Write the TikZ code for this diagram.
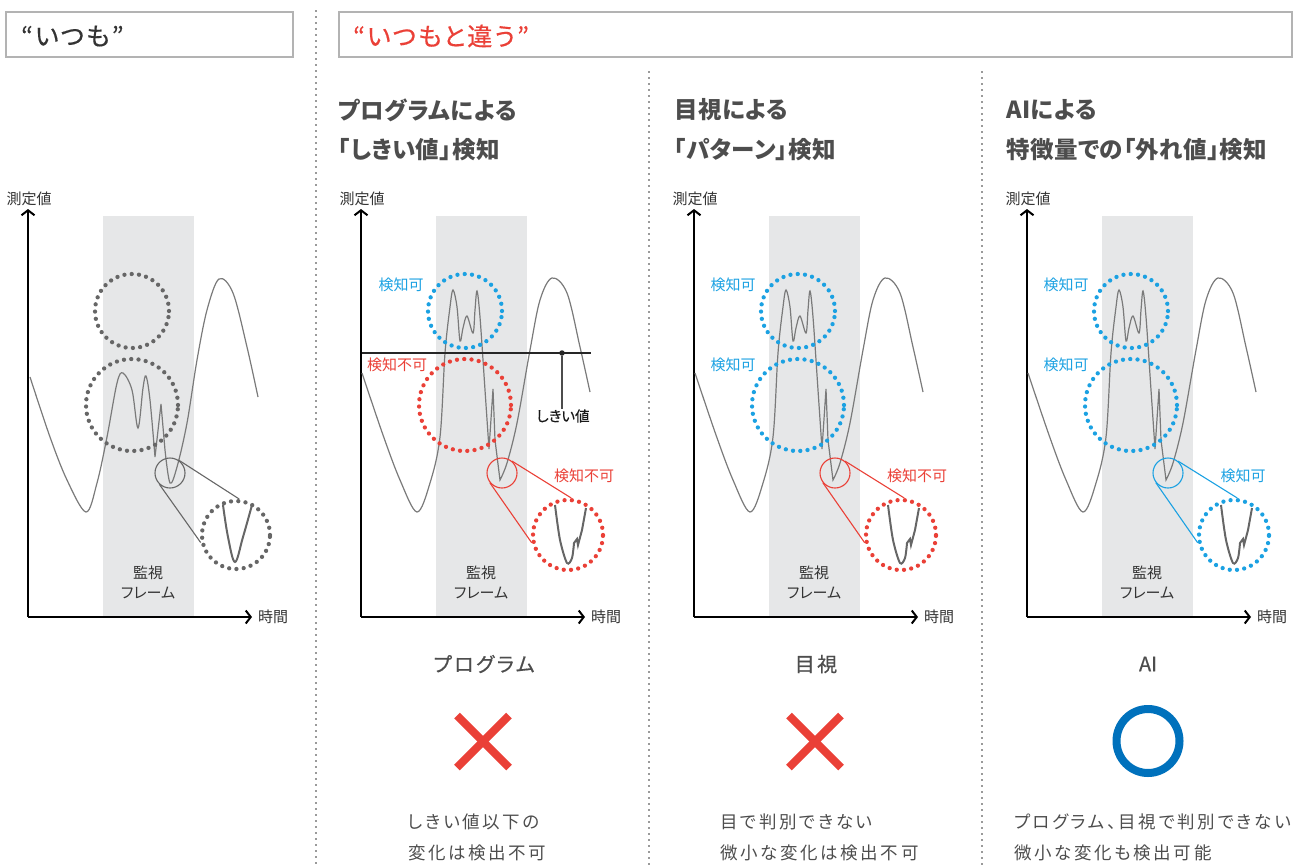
\documentclass[tikz,border=0pt]{standalone}
\usepackage{fontspec}
\setmainfont{Noto Sans CJK JP}[RawFeature=+palt]
\newfontfamily\jpmid{Noto Sans CJK JP}[RawFeature=+palt, FakeBold=0.5]
\usetikzlibrary{arrows.meta, calc}

\definecolor{txtgray}{HTML}{4D4D4D}
\definecolor{txtdark}{HTML}{333333}
\definecolor{curvegray}{HTML}{7A7A7A}
\definecolor{ringgray}{HTML}{666666}
\definecolor{bandgray}{HTML}{E6E7E8}
\definecolor{boxgray}{HTML}{B3B3B3}
\definecolor{alertred}{HTML}{EA4037}
\definecolor{okblue}{HTML}{1BA1E2}
\definecolor{markblue}{HTML}{0071BC}

\tikzset{
  headbox/.style={draw=boxgray, line width=1.6pt},
  divider/.style={draw=txtdark, line width=1.7pt, line cap=round, dash pattern=on 0pt off 6pt},
  titletxt/.style={anchor=west, inner sep=0pt,
    font=\jpmid\fontsize{25}{29}\selectfont\addfontfeatures{LetterSpace=8}},
  headtxt/.style={anchor=west, inner sep=0pt, text=txtgray,
    font=\fontsize{23.5}{28}\selectfont\bfseries\addfontfeatures{LetterSpace=2}},
  axis/.style={line width=2.2pt, -{Straight Barb[length=5pt,width=13pt,line width=2pt]}},
  axislbl/.style={inner sep=0pt, text=txtdark, font=\fontsize{15}{18}\selectfont},
  framelbl/.style={inner sep=0pt, align=center, text=txtdark, font=\fontsize{15}{20}\selectfont},
  judgelbl/.style={inner sep=0pt, font=\fontsize{15}{18}\selectfont},
  wave/.style={draw=curvegray, line width=1.2pt},
  zoomwave/.style={draw=ringgray, line width=2pt},
  ring/.style={circle, draw, line width=1.1pt, minimum size=30pt, inner sep=0pt},
  dotring/.style={circle, draw, line width=4.3pt, line cap=round, dash pattern=on 0pt off 7.3pt, inner sep=0pt},
  methodlbl/.style={inner sep=0pt, text=txtgray, font=\jpmid\fontsize{20}{24}\selectfont\addfontfeatures{LetterSpace=12}},
  notetxt/.style={anchor=west, align=left, inner sep=0pt, text=txtgray,
    font=\fontsize{17.5}{31}\selectfont\addfontfeatures{LetterSpace=15}},
}

\begin{document}
\begin{tikzpicture}[x=1pt, y=-1pt]
\useasboundingbox (0,0) rectangle (1298,865);

% Header boxes
\draw[headbox] (6,12) rectangle (293,57);
\node[titletxt, text=txtdark] (ttlA) at (21,36) {“いつも”};
\draw[headbox] (339,12) rectangle (1292,57);
\node[titletxt, text=alertred] (ttlB) at (353,36) {“いつもと違う”};

% Dividers
\draw[divider] (316,11) -- (316,865);
\draw[divider] (649,72) -- (649,865);
\draw[divider] (982,72) -- (982,865);

% Headings
\node[headtxt] (headPa) at (338,110) {プログラムによる};
\node[headtxt] (headPb) at (338,150) {「しきい値」検知};
\node[headtxt] (headVa) at (674,110) {目視による};
\node[headtxt] (headVb) at (674,150) {「パターン」検知};
\node[headtxt] (headAa) at (1006,110) {AIによる};
\node[headtxt] (headAb) at (1006,150) {特徴量での「外れ値」検知};

% Frame, axes and axis labels (all four charts)
\foreach \i/\dx in {1/0, 2/333, 3/666, 4/999} {
  \begin{scope}[xshift=\dx pt]
    \fill[bandgray] (103,216) rectangle (194,617);
    \coordinate (orig\i) at (28,617);
    \coordinate (ytop\i) at (28,209);
    \coordinate (xend\i) at (252,617);
    \draw[axis] (orig\i) -- (ytop\i);
    \draw[axis] (orig\i) -- (xend\i);
    \node[axislbl] (ylbl\i) at (29,199) {測定値};
    \node[axislbl, anchor=west] (xlbl\i) at (258,617) {時間};
    \node[framelbl] (frame\i) at (148,582) {監視\\フレーム};
  \end{scope}
}

% Usual signal
\draw[wave] plot[smooth, tension=0.55] coordinates {(30,377) (50,437) (67,480) (86,512) (97,483)
  (107,437) (117,383) (123,373) (132,390) (138,428) (143,388) (146,376) (150,400) (155,457)}
  -- (161,404) -- plot[smooth, tension=0.55] coordinates {(165,450) (170,483) (177,467) (187,423)
  (197,360) (207,310) (219,279) (233,293) (247,347) (258,397)};
\node[dotring, ringgray, minimum size=74pt] (topA) at (132,311) {};
\node[dotring, ringgray, minimum size=92pt] (midA) at (132,405) {};
\node[ring, ringgray] (dipA) at (170,473) {};
\node[dotring, ringgray, minimum size=68pt] (zoomA) at (236,535) {};
\draw[ringgray, line width=1.1pt] (dipA.57) -- (zoomA.85);
\draw[ringgray, line width=1.1pt] (dipA.227) -- (zoomA.192);
\draw[zoomwave] plot[smooth, tension=0.6] coordinates {(223,505) (228,537) (235,562) (243,537) (252,505)};

% Changed signal (three charts)
\foreach \dx in {333, 666, 999} {
  \begin{scope}[xshift=\dx pt]
    \draw[wave] plot[smooth, tension=0.55] coordinates {(29,373) (50,435) (67,480) (84,512) (97,483)
      (107,437) (112,353) (117,307) (120,290) (124,307) (127,341) (130,328) (134,316) (140,333)
      (142,310) (144,291) (147,317) (152,390) (156,449)} -- (160,389) -- (162,440)
      -- plot[smooth, tension=0.55] coordinates {(167,480) (174,463) (184,423) (197,350) (207,300)
      (219,278) (234,293) (247,347) (257,392)};
    \draw[zoomwave] plot[smooth, tension=0.5] coordinates {(222,505) (227,540) (234,563) (239,558)
      (241,543)} -- (244,539) -- (245,545) -- plot[smooth, tension=0.5] coordinates {(249,530) (253,508)};
  \end{scope}
}

% Program: threshold detection
\node[dotring, okblue, minimum size=74pt] (topP) at (465,311) {};
\node[dotring, alertred, minimum size=92pt] (midP) at (465,405) {};
\node[ring, alertred] (dipP) at (502,473) {};
\node[dotring, alertred, minimum size=70pt] (zoomP) at (568,535) {};
\draw[alertred, line width=1.1pt] (dipP.50) -- (zoomP.85);
\draw[alertred, line width=1.1pt] (dipP.218) -- (zoomP.192);
\node[judgelbl, text=okblue] (okPa) at (401,285) {検知可};
\node[judgelbl, text=alertred] (ngPb) at (397,365) {検知不可};
\node[judgelbl, text=alertred] (ngPc) at (584,476) {検知不可};
\coordinate (thL) at (362,353);
\coordinate (thR) at (591,353);
\draw[line width=1.4pt, black!85] (thL) -- (thR);
\node[circle, fill=black!85, inner sep=0pt, minimum size=5.5pt] (thDot) at (562,353) {};
\node[axislbl, text=black!90, font=\jpmid\fontsize{14.5}{18}\selectfont] (thLbl) at (563,416) {しきい値};
\draw[line width=1.1pt, black!70] (thDot) -- (thLbl.north -| thDot);

% Visual: pattern detection
\node[dotring, okblue, minimum size=74pt] (topV) at (798,311) {};
\node[dotring, okblue, minimum size=92pt] (midV) at (798,405) {};
\node[ring, alertred] (dipV) at (835,473) {};
\node[dotring, alertred, minimum size=70pt] (zoomV) at (901,535) {};
\draw[alertred, line width=1.1pt] (dipV.50) -- (zoomV.85);
\draw[alertred, line width=1.1pt] (dipV.218) -- (zoomV.192);
\node[judgelbl, text=okblue] (okVa) at (733,285) {検知可};
\node[judgelbl, text=okblue] (okVb) at (733,365) {検知可};
\node[judgelbl, text=alertred] (ngVc) at (917,476) {検知不可};

% AI: outlier detection on features
\node[dotring, okblue, minimum size=74pt] (topI) at (1131,311) {};
\node[dotring, okblue, minimum size=92pt] (midI) at (1131,405) {};
\node[ring, okblue] (dipI) at (1168,473) {};
\node[dotring, okblue, minimum size=70pt] (zoomI) at (1234,535) {};
\draw[okblue, line width=1.1pt] (dipI.50) -- (zoomI.85);
\draw[okblue, line width=1.1pt] (dipI.218) -- (zoomI.192);
\node[judgelbl, text=okblue] (okIa) at (1066,285) {検知可};
\node[judgelbl, text=okblue] (okIb) at (1066,365) {検知可};
\node[judgelbl, text=okblue] (okIc) at (1243,476) {検知可};

% Verdicts
\node[methodlbl] (mP) at (484,664) {プログラム};
\node[methodlbl] (mV) at (816,664) {目視};
\node[methodlbl, font=\jpmid\fontsize{20}{24}\selectfont] (mI) at (1148,664) {AI};
\coordinate (crossP) at (483,741.5);
\coordinate (crossV) at (815,741.5);
\draw[alertred, line width=8pt] ($(crossP)+(-26,-26)$) -- ($(crossP)+(26,26)$);
\draw[alertred, line width=8pt] ($(crossP)+(-26,26)$) -- ($(crossP)+(26,-26)$);
\draw[alertred, line width=8pt] ($(crossV)+(-26,-26)$) -- ($(crossV)+(26,26)$);
\draw[alertred, line width=8pt] ($(crossV)+(-26,26)$) -- ($(crossV)+(26,-26)$);
\draw[markblue, line width=8pt] (1148,741) ellipse [x radius=31.5, y radius=32];

% Notes
\node[notetxt] (noteP) at (408,837.5) {しきい値以下の\\変化は検出不可};
\node[notetxt] (noteV) at (720,837.5) {目で判別できない\\微小な変化は検出不可};
\node[notetxt] (noteI) at (1014,837.5) {プログラム、目視で判別できない\\微小な変化も検出可能};
\end{tikzpicture}
\end{document}
